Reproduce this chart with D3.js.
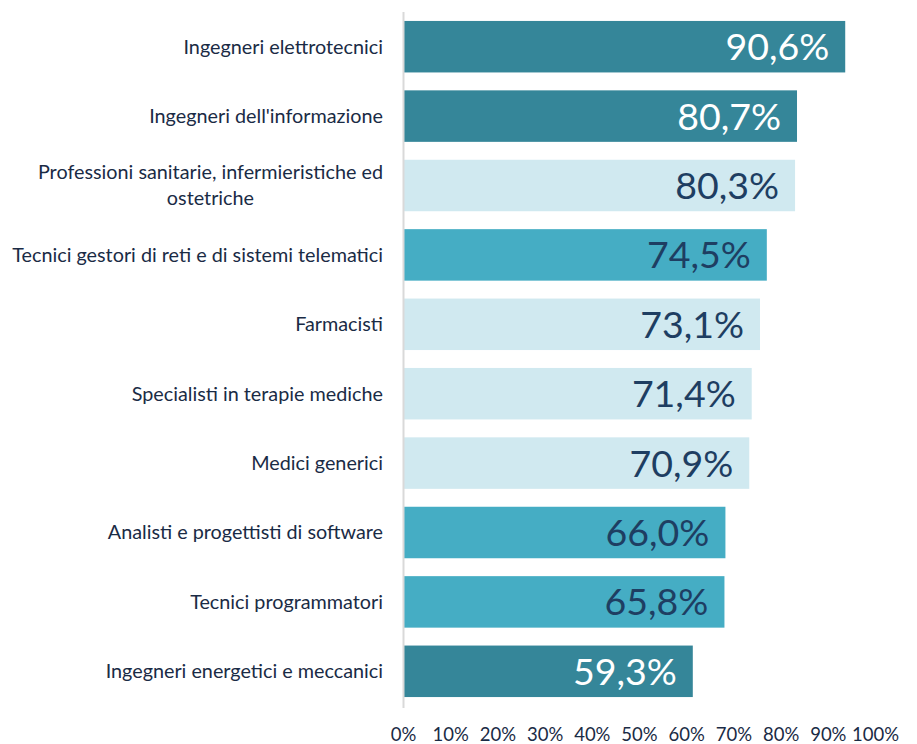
<!DOCTYPE html>
<html>
<head>
<meta charset="utf-8">
<title>Professioni</title>
<script src="https://d3js.org/d3.v7.min.js"></script>
<style>
    body { margin: 0; background: #fff; }
    text { font-family: Lato, "Open Sans", sans-serif; }
</style>
</head>
<body>
<div id="chart"></div>
<script>
    // data
    var categories = [
        "Ingegneri elettrotecnici",
        "Ingegneri dell'informazione",
        "Professioni sanitarie, infermieristiche ed|ostetriche",
        "Tecnici gestori di reti e di sistemi telematici",
        "Farmacisti",
        "Specialisti in terapie mediche",
        "Medici generici",
        "Analisti e progettisti di software",
        "Tecnici programmatori",
        "Ingegneri energetici e meccanici"
    ];
    var values = [90.6, 80.7, 80.3, 74.5, 73.1, 71.4, 70.9, 66.0, 65.8, 59.3];
    var groups = ["ing", "ing", "san", "ict", "san", "san", "san", "ict", "ict", "ing"];
    var tickValues = [0, 10, 20, 30, 40, 50, 60, 70, 80, 90, 100];

    var fillColor = { ing: "#358699", ict: "#45adc4", san: "#d0e9f0" };
    var textColor = { ing: "#ffffff", ict: "#1e3e62", san: "#1e3e62" };

    var W = 917, H = 744;
    var svg = d3.select("#chart").append("svg")
        .attr("width", W)
        .attr("height", H);

    var x = d3.scaleLinear().domain([0, 100]).range([404, 891]);
    // the tick labels in the original sit on a slightly narrower spacing
    var xTicks = d3.scaleLinear().domain([0, 100]).range([403, 875]);

    var y = d3.scaleBand()
        .domain(categories)
        .range([12, 706])
        .paddingInner(0.258)
        .paddingOuter(0.129);

    // bars
    svg.selectAll("rect.bar")
        .data(values)
        .enter().append("rect")
        .attr("class", "bar")
        .attr("x", x(0))
        .attr("y", function(d, i) { return y(categories[i]); })
        .attr("width", function(d) { return x(d) - x(0); })
        .attr("height", y.bandwidth())
        .attr("fill", function(d, i) { return fillColor[groups[i]]; });

    // vertical axis line
    svg.append("line")
        .attr("x1", x(0) - 0.5).attr("x2", x(0) - 0.5)
        .attr("y1", 12).attr("y2", 708)
        .attr("stroke", "#d9d9d9")
        .attr("stroke-width", 2);

    // value labels
    svg.selectAll("text.val")
        .data(values)
        .enter().append("text")
        .attr("class", "val")
        .attr("x", function(d) { return x(d) - 16; })
        .attr("y", function(d, i) { return y(categories[i]) + y.bandwidth() / 2; })
        .attr("dy", "0.36em")
        .attr("text-anchor", "end")
        .attr("font-size", 37.5)
        .attr("fill", function(d, i) { return textColor[groups[i]]; })
        .text(function(d) { return d.toFixed(1).replace(".", ",") + "%"; });

    // category labels (centered block, right aligned to the axis)
    var labels = svg.selectAll("text.cat")
        .data(categories)
        .enter().append("text")
        .attr("class", "cat")
        .attr("font-size", 19.8)
        .attr("fill", "#1a2b45")
        .attr("text-anchor", "middle");

    labels.each(function(c) {
        var t = d3.select(this);
        var lines = c.split("|");
        var cy = y(c) + y.bandwidth() / 2;
        var lh = 26;
        lines.forEach(function(l, k) {
            t.append("tspan")
                .attr("y", cy + (k - (lines.length - 1) / 2) * lh)
                .attr("dy", "0.35em")
                .text(l);
        });
        // measure widest line then right align block at 383
        var w = d3.max(t.selectAll("tspan").nodes(), function(n) { return n.getComputedTextLength(); });
        t.selectAll("tspan").attr("x", 383 - w / 2);
    });

    // x axis tick labels
    var axis = svg.append("g")
        .attr("transform", "translate(0,725)")
        .call(d3.axisBottom(xTicks).tickValues(tickValues).tickSize(0).tickFormat(function(d) { return d + "%"; }));
    axis.select(".domain").remove();
    axis.selectAll("text")
        .attr("font-size", 18.5)
        .attr("font-family", "Lato, 'Open Sans', sans-serif")
        .attr("fill", "#1a2b45");
</script>
</body>
</html>
